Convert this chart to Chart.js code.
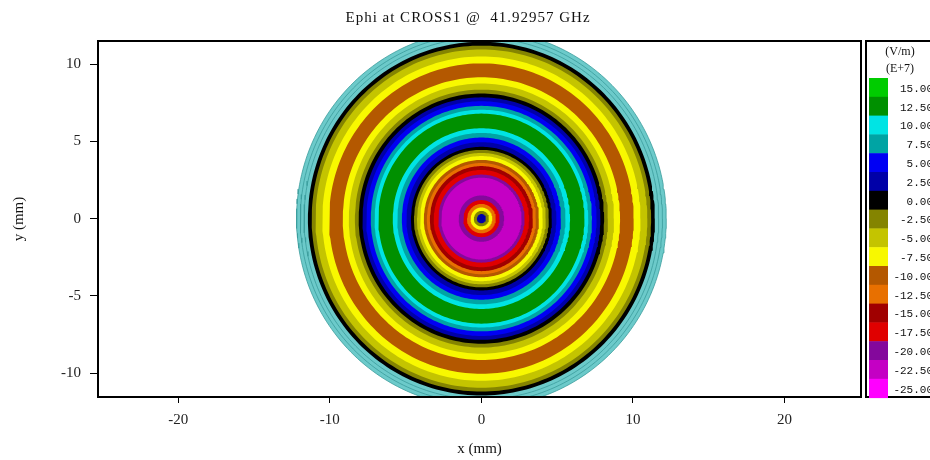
<!DOCTYPE html>
<html>
<head>
<meta charset="utf-8">
<script src="https://cdn.jsdelivr.net/npm/chart.js@4.4.1/dist/chart.umd.min.js"></script>
<style>
  html, body { margin: 0; padding: 0; background: #fff; }
  #wrap { width: 930px; height: 460px; }
</style>
</head>
<body>
<div id="wrap"><canvas id="myChart"></canvas></div>
<script>
// contour rings, outermost first: outer radius (mm) and field level (E+7 V/m)
const ringRadius = [12.2, 11.45, 11.2, 10.95, 10.5, 10.05, 9.15, 8.75, 8.35, 8.1, 7.85, 7.6, 7.3, 7.05, 6.8,
                    5.85, 5.55, 5.25, 4.95, 4.65, 4.45, 4.25, 4.05, 3.8, 3.6, 3.4, 3.15, 2.85, 2.65,
                    1.5, 1.2, 0.95, 0.72, 0.5, 0.3];
const ringLevel = [null, 0, -2.5, -5, -7.5, -10, -7.5, -5, -2.5, 0, 2.5, 5, 7.5, 10, 12.5,
                   10, 7.5, 5, 2.5, 0, -2.5, -5, -7.5, -10, -12.5, -15, -17.5, -20, -22.5,
                   -20, -17.5, -12.5, -7.5, -2.5, 2.5];
// mesh lines in the outer band (mm)
const meshRadius = [12.2, 11.95, 11.7];

// colour key
const keyLevels = [15, 12.5, 10, 7.5, 5, 2.5, 0, -2.5, -5, -7.5, -10, -12.5, -15, -17.5, -20, -22.5, -25];
const keyColors = ["#00cc00", "#009000", "#00e4e4", "#00a4a4", "#0000f4", "#0000a8", "#000000", "#848400",
                   "#c4c400", "#f8f800", "#b45800", "#e87000", "#a00000", "#e00000", "#84089c", "#c400c4", "#ff00ff"];

const xTicks = [-20, -10, 0, 10, 20];
const yTicks = [10, 5, 0, -5, -10];

const serif = "'Liberation Serif', 'Times New Roman', serif";

function levelColor(level) {
  if (level === null) return "#6ccaca";
  return keyColors[keyLevels.indexOf(level)];
}

function circle(r) {
  const pts = [];
  const n = 240;
  for (let k = 0; k <= n; k++) {
    const a = 2 * Math.PI * k / n;
    pts.push({ x: r * Math.cos(a), y: r * Math.sin(a) });
  }
  return pts;
}

const datasets = ringRadius.map((r, i) => ({
  data: circle(r),
  showLine: true,
  fill: "shape",
  backgroundColor: levelColor(ringLevel[i]),
  borderColor: "transparent",
  borderWidth: 0,
  pointRadius: 0,
  order: 100 - i
}));
meshRadius.forEach(r => {
  datasets.push({
    data: circle(r),
    showLine: true,
    fill: false,
    borderColor: "#3a9c9c",
    borderWidth: 0.8,
    pointRadius: 0,
    order: 99.5
  });
});

const frame = {
  id: "frame",
  afterDatasetsDraw(chart) {
    const { ctx, chartArea: a } = chart;
    ctx.save();
    ctx.strokeStyle = "#000";
    ctx.lineWidth = 2;
    ctx.strokeRect(a.left, a.top, a.right - a.left, a.bottom - a.top);
    ctx.restore();
  }
};

const heading = {
  id: "heading",
  afterDraw(chart) {
    const ctx = chart.ctx;
    ctx.save();
    ctx.fillStyle = "#111";
    ctx.font = "15px " + serif;
    ctx.letterSpacing = "1px";
    ctx.textAlign = "center";
    ctx.textBaseline = "middle";
    ctx.fillText("Ephi at CROSS1 @  41.92957 GHz", 468, 18);
    ctx.restore();
  }
};

const colorKey = {
  id: "colorKey",
  afterDraw(chart) {
    const ctx = chart.ctx;
    const a = chart.chartArea;
    const left = a.right + 5;
    ctx.save();
    ctx.strokeStyle = "#000";
    ctx.lineWidth = 2;
    ctx.strokeRect(left, a.top, 80, a.bottom - a.top);
    ctx.fillStyle = "#111";
    ctx.font = "12px " + serif;
    ctx.textAlign = "center";
    ctx.textBaseline = "middle";
    ctx.fillText("(V/m)", 900, 52);
    ctx.fillText("(E+7)", 900, 69);
    const h = 18.8;
    const top = 78;
    ctx.font = "11px 'Liberation Mono', 'DejaVu Sans Mono', monospace";
    ctx.textAlign = "right";
    keyLevels.forEach((v, i) => {
      ctx.fillStyle = keyColors[i];
      ctx.fillRect(left + 3, top + i * h, 19, h + 0.5);
      ctx.fillStyle = "#111";
      ctx.fillText(v.toFixed(2), 933, top + i * h + h / 2 + 1.5);
    });
    ctx.restore();
  }
};

const config = {
  type: "scatter",
  data: { datasets: datasets },
  options: {
    responsive: true,
    maintainAspectRatio: false,
    animation: false,
    events: [],
    layout: { padding: { left: 0, right: 69, top: 41, bottom: 0 } },
    plugins: {
      legend: { display: false },
      tooltip: { enabled: false },
      title: { display: false }
    },
    scales: {
      x: {
        type: "linear",
        min: -25.3,
        max: 25.05,
        afterBuildTicks: s => { s.ticks = xTicks.map(v => ({ value: v })); },
        afterFit: s => { s.height = 63; },
        grid: { drawOnChartArea: false, tickLength: 6, color: "#000", lineWidth: 1 },
        border: { color: "#000", width: 2 },
        ticks: { color: "#222", padding: 8, font: { family: serif, size: 15 } },
        title: { display: true, text: "x (mm)", color: "#111", padding: { top: 0, bottom: 2 }, font: { family: serif, size: 15 } }
      },
      y: {
        type: "linear",
        min: -11.55,
        max: 11.5,
        afterBuildTicks: s => { s.ticks = yTicks.map(v => ({ value: v })); },
        afterFit: s => { s.width = 98; },
        grid: { drawOnChartArea: false, tickLength: 8, color: "#000", lineWidth: 1 },
        border: { color: "#000", width: 2 },
        ticks: { color: "#222", padding: 9, font: { family: serif, size: 15 } },
        title: { display: true, text: "y (mm)", color: "#111", padding: { top: 10, bottom: 0 }, font: { family: serif, size: 15 } }
      }
    }
  },
  plugins: [frame, heading, colorKey]
};

const ctx = document.getElementById("myChart").getContext("2d");
new Chart(ctx, config);
</script>
</body>
</html>
